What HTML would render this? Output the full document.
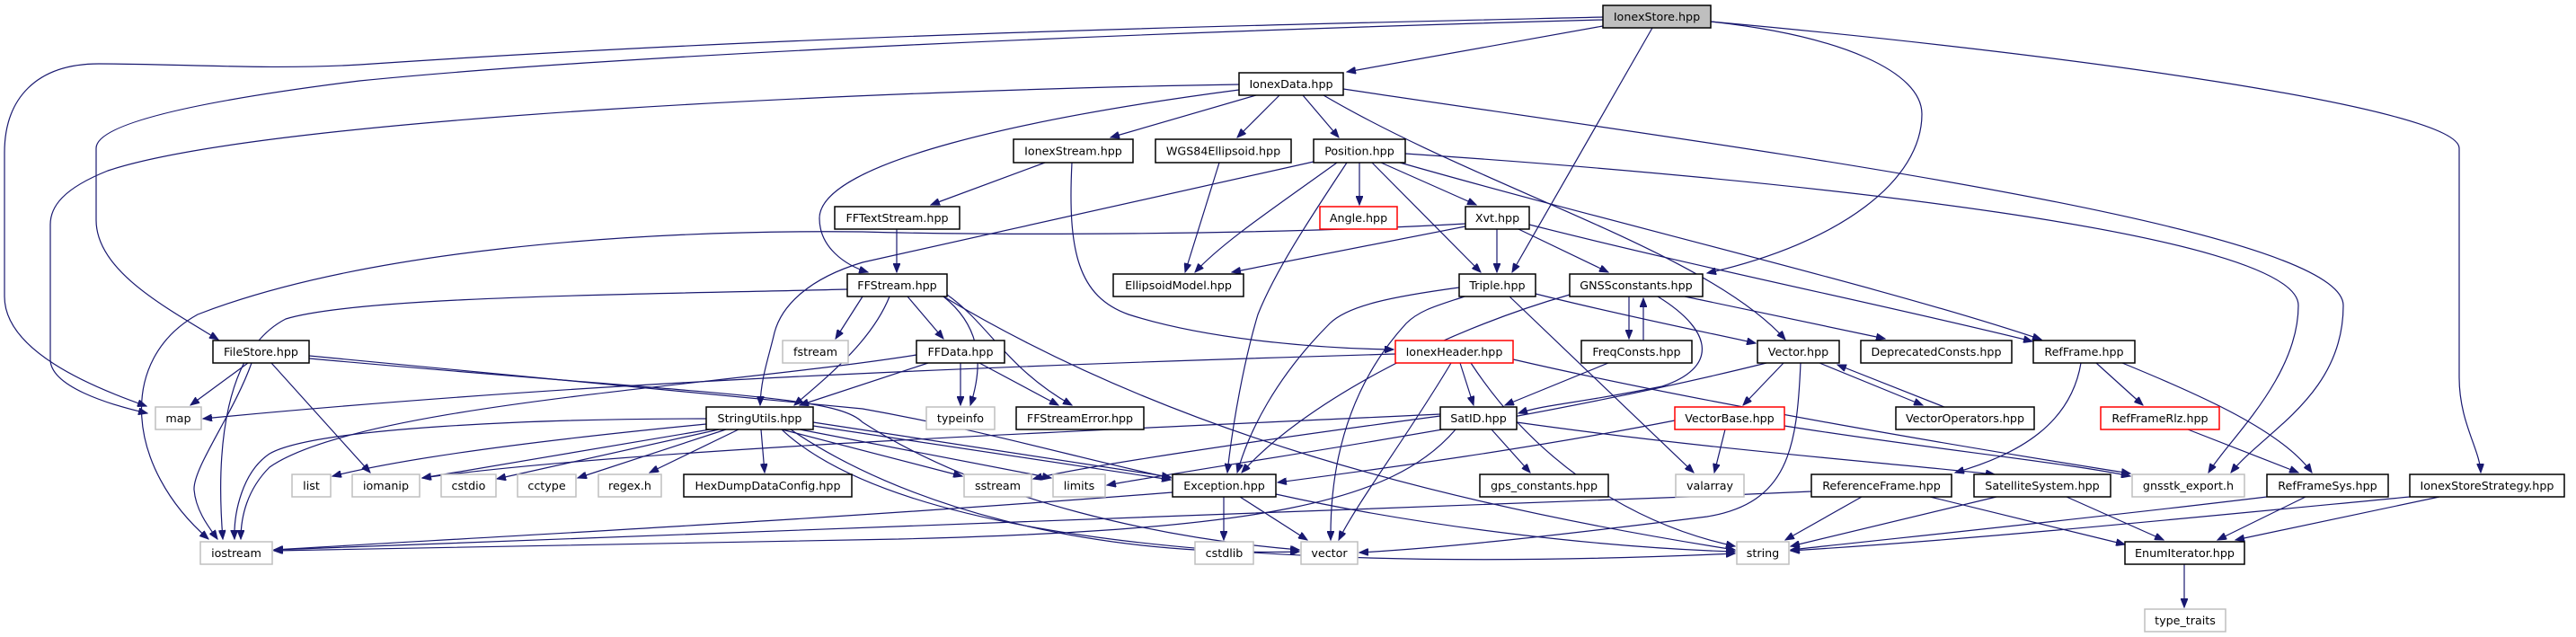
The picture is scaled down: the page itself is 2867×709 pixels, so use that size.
<!DOCTYPE html>
<html><head><meta charset="utf-8"><style>
html,body{margin:0;padding:0;background:#fff;}
svg{display:block;}
.e{fill:none;stroke:#191970;stroke-width:1.2;marker-end:url(#a);}
.n rect{fill:#fff;stroke:#000;stroke-width:1.5;}
.g rect{fill:#fff;stroke:#bfbfbf;stroke-width:1.5;}
.r rect{fill:#fff;stroke:#ff0000;stroke-width:1.5;}
text{font-family:"DejaVu Sans","Liberation Sans",sans-serif;font-size:12.7px;fill:#000;text-anchor:middle;dominant-baseline:central;}
</style></head><body>
<svg width="2867" height="709" viewBox="0 0 2867 709" xmlns="http://www.w3.org/2000/svg">
<defs><marker id="a" markerUnits="userSpaceOnUse" markerWidth="11" markerHeight="8" refX="10" refY="4" orient="auto"><path d="M0,0 L10,4 L0,8 z" fill="#191970" stroke="#191970"/></marker></defs>
<g>
<path class="e" d="M1784,29 L1499,80"/>
<path class="e" d="M1784,19 C1400,28 900,38 400,72 C300,78 200,71 110,71 C40,71 5,110 5,170 L5,330 C5,390 100,430 163,452"/>
<path class="e" d="M1784,22 C1300,35 700,60 400,90 C200,115 107,140 107,165 L107,245 C107,300 180,340 243,378"/>
<path class="e" d="M1839,31 L1683,303"/>
<path class="e" d="M1904,24 C2050,40 2139,80 2139,127 C2139,200 2050,270 1900,304"/>
<path class="e" d="M1904,24 C2300,60 2737,120 2737,165 L2737,420 C2737,470 2760,500 2761,526"/>
<path class="e" d="M1379,94 C1000,100 300,130 120,190 C70,210 56,230 56,250 L56,400 C56,430 120,450 164,460"/>
<path class="e" d="M1398,106 L1236,153"/>
<path class="e" d="M1424,106 L1377,153"/>
<path class="e" d="M1450,106 L1490,153"/>
<path class="e" d="M1379,100 C1150,130 912,180 912,243 C912,275 940,295 966,303"/>
<path class="e" d="M1473,106 C1650,210 1900,280 1987,378"/>
<path class="e" d="M1495,99 C1900,160 2608,250 2608,340 C2608,440 2520,480 2483,526"/>
<path class="e" d="M1564,171 C2000,200 2558,260 2558,340 C2558,420 2480,490 2458,526"/>
<path class="e" d="M1462,180 L960,292 C900,310 870,340 862,370 C855,400 847,420 846,451"/>
<path class="e" d="M1488,181 C1420,230 1360,270 1330,303"/>
<path class="e" d="M1499,181 C1460,240 1420,300 1400,350 C1385,400 1372,470 1366,526"/>
<path class="e" d="M1513,181 L1513,228"/>
<path class="e" d="M1527,181 L1648,303"/>
<path class="e" d="M1537,181 L1643,228"/>
<path class="e" d="M1558,181 C1800,250 2100,320 2272,378"/>
<path class="e" d="M1631,249 C1400,262 1100,262 960,258 C700,255 400,280 220,350 C130,400 140,520 232,600"/>
<path class="e" d="M1666,255 L1666,303"/>
<path class="e" d="M1690,255 L1790,303"/>
<path class="e" d="M1631,252 L1371,303"/>
<path class="e" d="M1702,250 C1900,300 2100,340 2262,380"/>
<path class="e" d="M998,255 L998,303"/>
<path class="e" d="M1163,181 L1036,228"/>
<path class="e" d="M1193,181 C1188,280 1200,330 1256,350 C1350,380 1480,388 1551,389"/>
<path class="e" d="M1357,181 L1319,303"/>
<path class="e" d="M943,322 C700,328 400,330 318,355 C250,390 240,500 248,600"/>
<path class="e" d="M960,330 L930,377"/>
<path class="e" d="M990,330 C970,380 920,420 884,451"/>
<path class="e" d="M1010,330 L1050,377"/>
<path class="e" d="M1050,330 C1100,370 1090,420 1080,451"/>
<path class="e" d="M1054,328 C1100,360 1120,410 1193,451"/>
<path class="e" d="M1050,330 C1300,480 1600,560 1931,612"/>
<path class="e" d="M276,404 L212,451"/>
<path class="e" d="M280,404 C260,460 215,520 216,545 C218,570 235,590 242,600"/>
<path class="e" d="M302,404 L412,526"/>
<path class="e" d="M344,396 L960,455 C1100,480 1200,510 1303,532"/>
<path class="e" d="M344,399 C800,440 930,440 960,470 C1100,560 1300,600 1446,612"/>
<path class="e" d="M1020,395 C800,430 400,450 300,520 C275,545 268,575 268,600"/>
<path class="e" d="M1033,404 L890,451"/>
<path class="e" d="M1069,404 L1069,451"/>
<path class="e" d="M1090,404 L1178,451"/>
<path class="e" d="M1553,394 C1000,410 600,430 226,466"/>
<path class="e" d="M1625,404 L1640,451"/>
<path class="e" d="M1615,404 C1570,480 1510,560 1490,601"/>
<path class="e" d="M1637,404 C1700,500 1800,580 1931,608"/>
<path class="e" d="M1684,400 C1900,450 2200,500 2371,527"/>
<path class="e" d="M1624,320 C1550,330 1500,340 1480,360 C1420,420 1390,480 1377,526"/>
<path class="e" d="M1630,330 C1600,340 1580,345 1565,360 C1510,420 1480,500 1481,601"/>
<path class="e" d="M1680,330 L1885,526"/>
<path class="e" d="M1709,327 C1800,350 1900,370 1954,382"/>
<path class="e" d="M1813,330 L1813,377"/>
<path class="e" d="M1829,379 L1829,332"/>
<path class="e" d="M1845,330 C1910,370 1910,410 1850,430 C1750,450 1720,450 1690,460"/>
<path class="e" d="M1875,330 L2098,377"/>
<path class="e" d="M1747,328 C1600,370 1450,450 1382,526"/>
<path class="e" d="M1790,404 L1675,451"/>
<path class="e" d="M1985,404 L1940,451"/>
<path class="e" d="M2025,404 L2140,451"/>
<path class="e" d="M2164,453 L2045,406"/>
<path class="e" d="M2004,404 C2000,500 1990,560 1900,575 C1700,600 1600,610 1513,615"/>
<path class="e" d="M1966,404 C1700,470 1400,510 1232,540"/>
<path class="e" d="M1920,478 L1908,526"/>
<path class="e" d="M1864,468 C1700,500 1550,520 1422,537"/>
<path class="e" d="M1986,474 C2150,500 2300,515 2371,530"/>
<path class="e" d="M1603,461 C1200,480 700,500 470,532"/>
<path class="e" d="M1603,463 C1400,490 1200,520 1150,533"/>
<path class="e" d="M1620,478 C1550,560 1400,590 1000,600 C700,605 400,610 305,613"/>
<path class="e" d="M1660,478 L1703,526"/>
<path class="e" d="M1688,470 C1900,500 2100,515 2220,528"/>
<path class="e" d="M1362,553 L1362,601"/>
<path class="e" d="M1380,553 L1455,601"/>
<path class="e" d="M1420,550 C1600,590 1800,610 1931,614"/>
<path class="e" d="M1305,548 C900,580 500,600 305,612"/>
<path class="e" d="M786,472 C600,490 450,510 370,530"/>
<path class="e" d="M786,466 C600,466 350,476 300,505 C270,525 260,570 261,600"/>
<path class="e" d="M790,478 L470,532"/>
<path class="e" d="M800,478 L553,533"/>
<path class="e" d="M808,478 L643,532"/>
<path class="e" d="M822,478 L723,526"/>
<path class="e" d="M847,478 L851,526"/>
<path class="e" d="M870,478 L1071,530"/>
<path class="e" d="M890,478 L1170,532"/>
<path class="e" d="M905,470 L1303,531"/>
<path class="e" d="M905,474 L1303,534"/>
<path class="e" d="M880,478 C1000,560 1200,620 1446,614"/>
<path class="e" d="M870,478 C1000,600 1400,640 1931,616"/>
<path class="e" d="M2016,547 C1500,570 1000,590 305,612"/>
<path class="e" d="M2072,553 L1987,601"/>
<path class="e" d="M2148,553 L2365,606"/>
<path class="e" d="M2222,553 L1993,608"/>
<path class="e" d="M2300,553 L2408,601"/>
<path class="e" d="M2316,404 C2305,470 2250,505 2176,526"/>
<path class="e" d="M2333,404 L2385,451"/>
<path class="e" d="M2362,404 C2450,440 2540,480 2573,526"/>
<path class="e" d="M2435,478 L2558,526"/>
<path class="e" d="M2523,553 C2300,580 2100,600 1993,612"/>
<path class="e" d="M2566,553 L2468,601"/>
<path class="e" d="M2682,553 C2400,580 2200,600 1993,613"/>
<path class="e" d="M2715,553 L2488,601"/>
<path class="e" d="M2431,628 L2431,676"/>
</g>
<g class="n"><rect x="1784" y="6" width="120" height="25" style="fill:#bfbfbf"/><text x="1844" y="18.5">IonexStore.hpp</text></g>
<g class="n"><rect x="1379" y="81" width="116" height="25"/><text x="1437" y="93.5">IonexData.hpp</text></g>
<g class="n"><rect x="1128" y="155" width="133" height="26"/><text x="1194.5" y="168">IonexStream.hpp</text></g>
<g class="n"><rect x="1286" y="155" width="151" height="26"/><text x="1361.5" y="168">WGS84Ellipsoid.hpp</text></g>
<g class="n"><rect x="1462" y="155" width="102" height="26"/><text x="1513" y="168">Position.hpp</text></g>
<g class="n"><rect x="929" y="230" width="139" height="25"/><text x="998.5" y="242.5">FFTextStream.hpp</text></g>
<g class="r"><rect x="1469" y="230" width="86" height="25"/><text x="1512" y="242.5">Angle.hpp</text></g>
<g class="n"><rect x="1631" y="230" width="71" height="25"/><text x="1666.5" y="242.5">Xvt.hpp</text></g>
<g class="n"><rect x="943" y="305" width="111" height="25"/><text x="998.5" y="317.5">FFStream.hpp</text></g>
<g class="n"><rect x="1239" y="305" width="145" height="25"/><text x="1311.5" y="317.5">EllipsoidModel.hpp</text></g>
<g class="n"><rect x="1624" y="305" width="85" height="25"/><text x="1666.5" y="317.5">Triple.hpp</text></g>
<g class="n"><rect x="1747" y="305" width="148" height="25"/><text x="1821" y="317.5">GNSSconstants.hpp</text></g>
<g class="n"><rect x="237" y="379" width="107" height="25"/><text x="290.5" y="391.5">FileStore.hpp</text></g>
<g class="g"><rect x="871" y="379" width="73" height="25"/><text x="907.5" y="391.5">fstream</text></g>
<g class="n"><rect x="1020" y="379" width="98" height="25"/><text x="1069" y="391.5">FFData.hpp</text></g>
<g class="r"><rect x="1553" y="379" width="131" height="25"/><text x="1618.5" y="391.5">IonexHeader.hpp</text></g>
<g class="n"><rect x="1760" y="379" width="123" height="25"/><text x="1821.5" y="391.5">FreqConsts.hpp</text></g>
<g class="n"><rect x="1956" y="379" width="91" height="25"/><text x="2001.5" y="391.5">Vector.hpp</text></g>
<g class="n"><rect x="2071" y="379" width="168" height="25"/><text x="2155" y="391.5">DeprecatedConsts.hpp</text></g>
<g class="n"><rect x="2263" y="379" width="113" height="25"/><text x="2319.5" y="391.5">RefFrame.hpp</text></g>
<g class="g"><rect x="173" y="453" width="51" height="25"/><text x="198.5" y="465.5">map</text></g>
<g class="n"><rect x="786" y="453" width="119" height="25"/><text x="845.5" y="465.5">StringUtils.hpp</text></g>
<g class="g"><rect x="1031" y="453" width="76" height="25"/><text x="1069" y="465.5">typeinfo</text></g>
<g class="n"><rect x="1131" y="453" width="142" height="25"/><text x="1202" y="465.5">FFStreamError.hpp</text></g>
<g class="n"><rect x="1603" y="453" width="85" height="25"/><text x="1645.5" y="465.5">SatID.hpp</text></g>
<g class="r"><rect x="1864" y="453" width="122" height="25"/><text x="1925" y="465.5">VectorBase.hpp</text></g>
<g class="n"><rect x="2110" y="453" width="154" height="25"/><text x="2187" y="465.5">VectorOperators.hpp</text></g>
<g class="r"><rect x="2338" y="453" width="132" height="25"/><text x="2404" y="465.5">RefFrameRlz.hpp</text></g>
<g class="g"><rect x="325" y="528" width="43" height="25"/><text x="346.5" y="540.5">list</text></g>
<g class="g"><rect x="392" y="528" width="75" height="25"/><text x="429.5" y="540.5">iomanip</text></g>
<g class="g"><rect x="491" y="528" width="61" height="25"/><text x="521.5" y="540.5">cstdio</text></g>
<g class="g"><rect x="576" y="528" width="65" height="25"/><text x="608.5" y="540.5">cctype</text></g>
<g class="g"><rect x="666" y="528" width="70" height="25"/><text x="701" y="540.5">regex.h</text></g>
<g class="n"><rect x="761" y="528" width="187" height="25"/><text x="854.5" y="540.5">HexDumpDataConfig.hpp</text></g>
<g class="g"><rect x="1073" y="528" width="75" height="25"/><text x="1110.5" y="540.5">sstream</text></g>
<g class="g"><rect x="1172" y="528" width="58" height="25"/><text x="1201" y="540.5">limits</text></g>
<g class="n"><rect x="1305" y="528" width="115" height="25"/><text x="1362.5" y="540.5">Exception.hpp</text></g>
<g class="n"><rect x="1647" y="528" width="143" height="25"/><text x="1718.5" y="540.5">gps_constants.hpp</text></g>
<g class="g"><rect x="1865" y="528" width="76" height="25"/><text x="1903" y="540.5">valarray</text></g>
<g class="n"><rect x="2016" y="528" width="156" height="25"/><text x="2094" y="540.5">ReferenceFrame.hpp</text></g>
<g class="n"><rect x="2197" y="528" width="152" height="25"/><text x="2273" y="540.5">SatelliteSystem.hpp</text></g>
<g class="g"><rect x="2373" y="528" width="125" height="25"/><text x="2435.5" y="540.5">gnsstk_export.h</text></g>
<g class="n"><rect x="2523" y="528" width="135" height="25"/><text x="2590.5" y="540.5">RefFrameSys.hpp</text></g>
<g class="n"><rect x="2682" y="528" width="172" height="25"/><text x="2768" y="540.5">IonexStoreStrategy.hpp</text></g>
<g class="g"><rect x="223" y="603" width="80" height="25"/><text x="263" y="615.5">iostream</text></g>
<g class="g"><rect x="1330" y="603" width="65" height="25"/><text x="1362.5" y="615.5">cstdlib</text></g>
<g class="g"><rect x="1448" y="603" width="63" height="25"/><text x="1479.5" y="615.5">vector</text></g>
<g class="g"><rect x="1933" y="603" width="58" height="25"/><text x="1962" y="615.5">string</text></g>
<g class="n"><rect x="2365" y="603" width="133" height="25"/><text x="2431.5" y="615.5">EnumIterator.hpp</text></g>
<g class="g"><rect x="2387" y="678" width="90" height="25"/><text x="2432" y="690.5">type_traits</text></g>
</svg>
</body></html>
